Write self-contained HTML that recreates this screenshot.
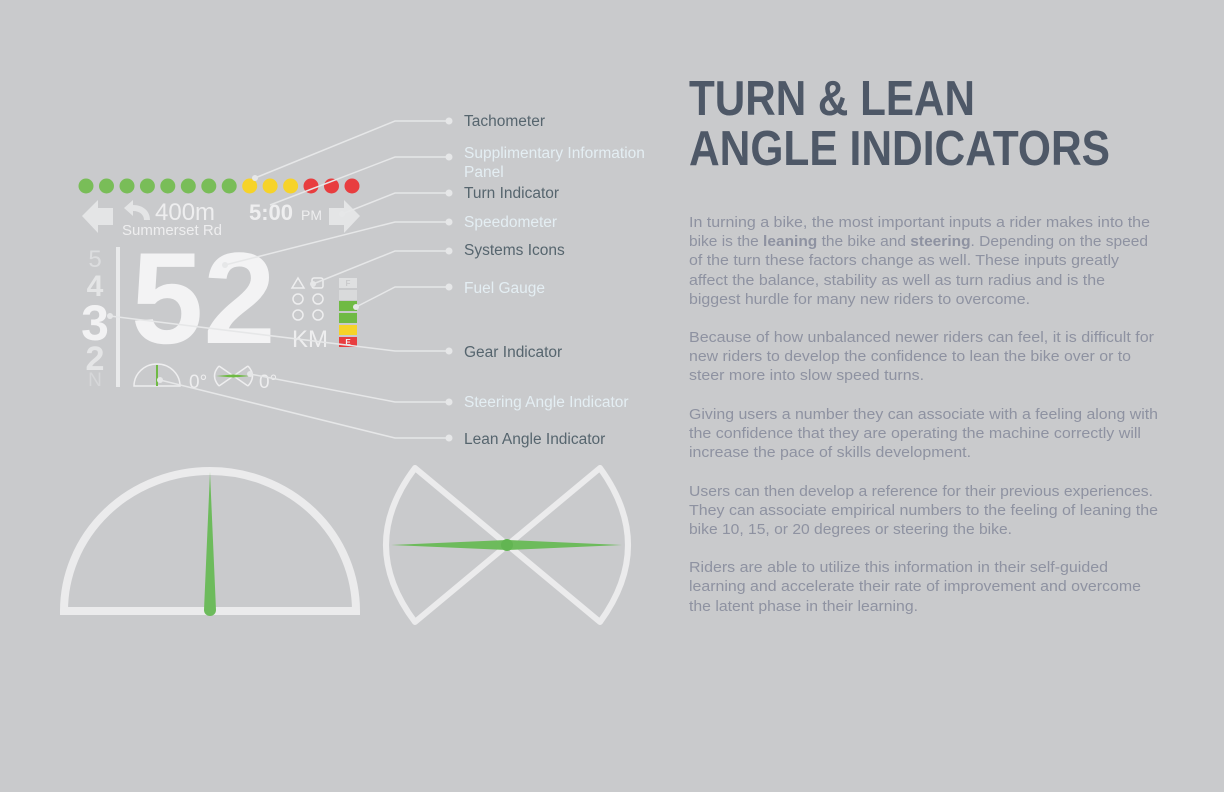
<!DOCTYPE html>
<html><head><meta charset="utf-8"><style>
html,body{margin:0;padding:0;background:#c9cacc;}
svg{display:block;font-family:"Liberation Sans",sans-serif;}
</style></head><body>
<svg width="1224" height="792" viewBox="0 0 1224 792" xmlns="http://www.w3.org/2000/svg">
<rect width="1224" height="792" fill="#c9cacc"/>

<g fill="#4e5867" font-weight="bold" font-size="49">
<text x="689" y="115" textLength="286" lengthAdjust="spacingAndGlyphs">TURN &amp; LEAN</text>
<text x="689" y="165" textLength="421" lengthAdjust="spacingAndGlyphs">ANGLE INDICATORS</text>
</g>

<g fill="#8e92a1" font-size="15">
<text x="689" y="227" textLength="461" lengthAdjust="spacingAndGlyphs">In turning a bike, the most important inputs a rider makes into the</text>
<text x="689" y="246" textLength="459" lengthAdjust="spacingAndGlyphs">bike is the <tspan font-weight="bold">leaning</tspan> the bike and <tspan font-weight="bold">steering</tspan>. Depending on the speed</text>
<text x="689" y="265" textLength="430" lengthAdjust="spacingAndGlyphs">of the turn these factors change as well. These inputs greatly</text>
<text x="689" y="285" textLength="416" lengthAdjust="spacingAndGlyphs">affect the balance, stability as well as turn radius and is the</text>
<text x="689" y="304" textLength="341" lengthAdjust="spacingAndGlyphs">biggest hurdle for many new riders to overcome.</text>

<text x="689" y="342" textLength="465" lengthAdjust="spacingAndGlyphs">Because of how unbalanced newer riders can feel, it is difficult for</text>
<text x="689" y="361" textLength="442" lengthAdjust="spacingAndGlyphs">new riders to develop the confidence to lean the bike over or to</text>
<text x="689" y="380" textLength="235" lengthAdjust="spacingAndGlyphs">steer more into slow speed turns.</text>

<text x="689" y="419" textLength="469" lengthAdjust="spacingAndGlyphs">Giving users a number they can associate with a feeling along with</text>
<text x="689" y="438" textLength="452" lengthAdjust="spacingAndGlyphs">the confidence that they are operating the machine correctly will</text>
<text x="689" y="457" textLength="282" lengthAdjust="spacingAndGlyphs">increase the pace of skills development.</text>

<text x="689" y="496" textLength="464" lengthAdjust="spacingAndGlyphs">Users can then develop a reference for their previous experiences.</text>
<text x="689" y="515" textLength="469" lengthAdjust="spacingAndGlyphs">They can associate empirical numbers to the feeling of leaning the</text>
<text x="689" y="534" textLength="323" lengthAdjust="spacingAndGlyphs">bike 10, 15, or 20 degrees or steering the bike.</text>

<text x="689" y="572" textLength="419" lengthAdjust="spacingAndGlyphs">Riders are able to utilize this information in their self-guided</text>
<text x="689" y="591" textLength="452" lengthAdjust="spacingAndGlyphs">learning and accelerate their rate of improvement and overcome</text>
<text x="689" y="611" textLength="229" lengthAdjust="spacingAndGlyphs">the latent phase in their learning.</text>
</g>

<g>
<circle cx="86" cy="186" r="7.5" fill="#79bd58"/>
<circle cx="106.5" cy="186" r="7.5" fill="#79bd58"/>
<circle cx="127" cy="186" r="7.5" fill="#79bd58"/>
<circle cx="147.4" cy="186" r="7.5" fill="#79bd58"/>
<circle cx="167.8" cy="186" r="7.5" fill="#79bd58"/>
<circle cx="188.3" cy="186" r="7.5" fill="#79bd58"/>
<circle cx="208.8" cy="186" r="7.5" fill="#79bd58"/>
<circle cx="229.2" cy="186" r="7.5" fill="#79bd58"/>
<circle cx="249.7" cy="186" r="7.5" fill="#f6d329"/>
<circle cx="270.1" cy="186" r="7.5" fill="#f6d329"/>
<circle cx="290.6" cy="186" r="7.5" fill="#f6d329"/>
<circle cx="311" cy="186" r="7.5" fill="#e83d3f"/>
<circle cx="331.5" cy="186" r="7.5" fill="#e83d3f"/>
<circle cx="352" cy="186" r="7.5" fill="#e83d3f"/>
</g>

<path d="M82,216 L98,200 L98,208 L113,208 L113,225 L98,225 L98,233 Z" fill="#e4e5e6"/>
<path d="M360,216 L344,200 L344,208 L329,208 L329,225 L344,225 L344,233 Z" fill="#e4e5e6"/>
<path d="M124,208 L133,200 L133,205 C143,205 150,211 150,220 L144,220 C144,215 140,211 133,211 L133,216 Z" fill="#e4e5e6"/>
<text x="155" y="220" font-size="24" fill="#eeeeef">400m</text>
<text x="122" y="235" font-size="15" fill="#eeeeef">Summerset Rd</text>
<text x="249" y="220" font-size="22" font-weight="bold" fill="#eeeeef">5:00</text>
<text x="301" y="220" font-size="14" fill="#eeeeef">PM</text>

<text x="95" y="267" font-size="24" fill="#dcdddf" text-anchor="middle">5</text>
<text x="95" y="296" font-size="30" font-weight="bold" fill="#e4e5e6" text-anchor="middle">4</text>
<text x="95" y="340" font-size="50" font-weight="bold" fill="#f2f2f3" text-anchor="middle">3</text>
<text x="95" y="370" font-size="34" font-weight="bold" fill="#e4e5e6" text-anchor="middle">2</text>
<text x="95" y="386" font-size="19" fill="#d6d7d9" text-anchor="middle">N</text>
<rect x="116" y="247" width="4" height="140" fill="#e9eaeb"/>

<text x="131" y="343" font-size="130" font-weight="bold" fill="#f3f3f4">52</text>
<text x="292" y="347" font-size="24" fill="#eeeeef">KM</text>

<g fill="none" stroke="#eeeeef" stroke-width="1.5">
<path d="M298,278 L304,288 L292,288 Z"/>
<rect x="312" y="278" width="11" height="10" rx="2"/>
<circle cx="298" cy="299" r="5"/>
<circle cx="318" cy="299" r="5"/>
<circle cx="298" cy="315" r="5"/>
<circle cx="318" cy="315" r="5"/>
</g>

<rect x="339" y="278" width="18" height="10" fill="#dfe0e1"/>
<text x="348" y="286" font-size="8" font-weight="bold" fill="#c9cacc" text-anchor="middle">F</text>
<rect x="339" y="290" width="18" height="10" fill="#d9dadb"/>
<rect x="339" y="301" width="18" height="10" fill="#6fba44"/>
<rect x="339" y="313" width="18" height="10" fill="#6fba44"/>
<rect x="339" y="325" width="18" height="10" fill="#f6d329"/>
<rect x="339" y="337" width="18" height="10" fill="#e83d3f"/>
<text x="348" y="345" font-size="8" font-weight="bold" fill="#f2f2f3" text-anchor="middle">E</text>

<path d="M134,386 A23,22 0 0 1 180,386 Z" fill="none" stroke="#eeeeef" stroke-width="1.5"/>
<line x1="157" y1="365" x2="157" y2="386" stroke="#6fba44" stroke-width="2"/>
<text x="189" y="388" font-size="19" fill="#eeeeef">0°</text>
<path d="M219,366 L248,386 M248,366 L219,386 M219,366 Q210,376 219,386 M248,366 Q257,376 248,386" fill="none" stroke="#eeeeef" stroke-width="1.5"/>
<path d="M216,376 L233,374.5 L251,376 L233,377.5 Z" fill="#6fba44"/>
<text x="259" y="388" font-size="19" fill="#eeeeef">0°</text>

<g stroke="#e6e7e8" stroke-width="1.5" fill="none">
<polyline points="255,178 395,121 449,121"/>
<polyline points="270,205 395,157 449,157"/>
<polyline points="342,214 395,193 449,193"/>
<polyline points="225,265 395,222 449,222"/>
<polyline points="313,284 395,251 449,251"/>
<polyline points="356,307 395,287 449,287"/>
<polyline points="110,316 395,351 449,351"/>
<polyline points="250,374 395,402 449,402"/>
<polyline points="160,380 395,438 449,438"/>
</g>
<g fill="#e6e7e8">
<circle cx="449" cy="121" r="3.5"/><circle cx="449" cy="157" r="3.5"/><circle cx="449" cy="193" r="3.5"/>
<circle cx="449" cy="222" r="3.5"/><circle cx="449" cy="251" r="3.5"/><circle cx="449" cy="287" r="3.5"/>
<circle cx="449" cy="351" r="3.5"/><circle cx="449" cy="402" r="3.5"/><circle cx="449" cy="438" r="3.5"/>
<circle cx="255" cy="178" r="3"/><circle cx="342" cy="214" r="3"/><circle cx="225" cy="265" r="3"/>
<circle cx="313" cy="284" r="3"/><circle cx="356" cy="307" r="3"/><circle cx="110" cy="316" r="3"/>
<circle cx="250" cy="374" r="3"/><circle cx="160" cy="380" r="3"/>
</g>

<g font-size="15.5">
<text x="464" y="126" fill="#56656e">Tachometer</text>
<text x="464" y="158" fill="#e4eef3">Supplimentary Information</text>
<text x="464" y="177" fill="#e4eef3">Panel</text>
<text x="464" y="198" fill="#56656e">Turn Indicator</text>
<text x="464" y="227" fill="#e4eef3">Speedometer</text>
<text x="464" y="255" fill="#56656e">Systems Icons</text>
<text x="464" y="293" fill="#e4eef3">Fuel Gauge</text>
<text x="464" y="357" fill="#56656e">Gear Indicator</text>
<text x="464" y="407" fill="#e4eef3">Steering Angle Indicator</text>
<text x="464" y="444" fill="#56656e">Lean Angle Indicator</text>
</g>

<path d="M64,611 A146,140 0 0 1 356,611 Z" fill="none" stroke="#ebebec" stroke-width="8"/>
<path d="M210,472 L216,610 A6,6 0 0 1 204,610 Z" fill="#6dbb5c"/>

<g fill="none" stroke="#ebebec" stroke-width="6" stroke-linejoin="round">
<path d="M415,468 L600,622 Q656,545 600,468 L415,622 Q357,545 415,468 Z"/>
</g>
<path d="M391,545 L507,540 L622,545 L507,550 Z" fill="#6dbb5c"/>
<circle cx="507" cy="545" r="6" fill="#62b552"/>
</svg>
</body></html>
